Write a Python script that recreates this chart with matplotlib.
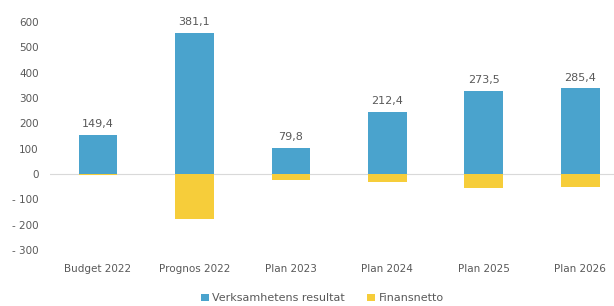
import matplotlib
matplotlib.use("Agg")
import matplotlib.pyplot as plt
import numpy as np

categories = ["Budget 2022", "Prognos 2022", "Plan 2023", "Plan 2024", "Plan 2025", "Plan 2026"]
verksamhet = [155.0, 558.0, 103.0, 245.0, 328.0, 338.0]
finansnetto = [-5.6, -176.9, -23.2, -32.6, -54.5, -52.6]
totals = [149.4, 381.1, 79.8, 212.4, 273.5, 285.4]
yticks = [600, 500, 400, 300, 200, 100, 0, -100, -200, -300]

blue = "#4aa3cd"
yellow = "#f6cd3a"
txt = "#595959"

fig = plt.figure(figsize=(6.14, 3.06), dpi=100)
ax = fig.add_axes([0.081, 0.183, 0.919, 0.745])
x = np.arange(len(categories))
w = 0.4
ax.bar(x, verksamhet, w, color=blue, label="Verksamhetens resultat", zorder=2)
ax.bar(x, finansnetto, w, color=yellow, label="Finansnetto", zorder=2)
ax.axhline(0, color="#d9d9d9", lw=0.8, zorder=1)
for xi, v, t in zip(x, verksamhet, totals):
    ax.text(xi, v + 22, f"{t:.1f}".replace(".", ","), ha="center", va="bottom",
            fontsize=8, color=txt)
ax.set_xlim(-0.5, 5.35)
ax.set_ylim(-300, 600)
ax.set_yticks(yticks)
ax.set_yticklabels([("- " + str(-v)) if v < 0 else str(v) for v in yticks])
ax.set_xticks(x)
ax.set_xticklabels(categories)
ax.tick_params(axis="both", length=0, labelsize=7.5, colors=txt)
ax.tick_params(axis="x", pad=10)
ax.tick_params(axis="y", pad=8)
for s in ax.spines.values():
    s.set_visible(False)
fig.legend(loc="center", bbox_to_anchor=(0.525, 0.025), ncol=2, frameon=False,
           fontsize=8, handlelength=0.7, handleheight=0.7, handletextpad=0.3,
           columnspacing=2.0, labelcolor=txt)
fig.savefig("out.png", dpi=100)
